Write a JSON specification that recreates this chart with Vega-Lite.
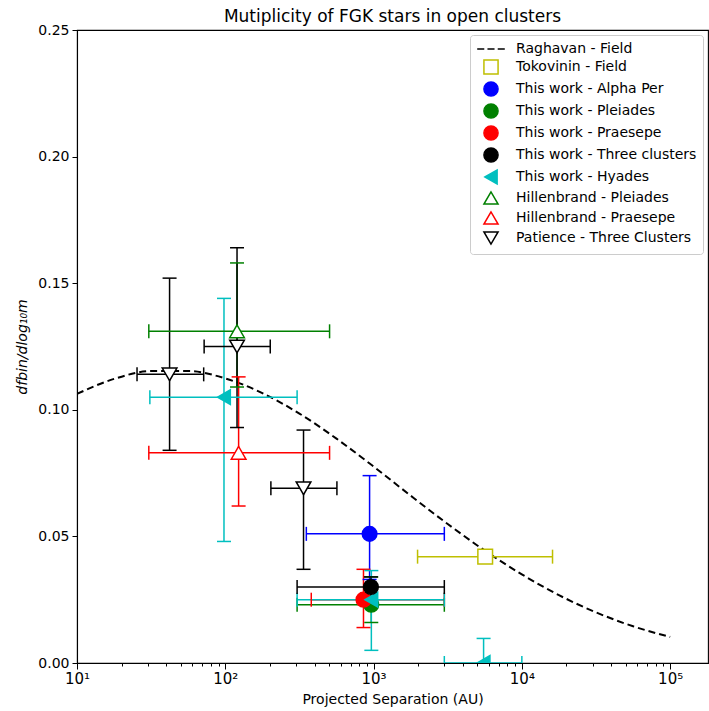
{
  "$schema": "https://vega.github.io/schema/vega-lite/v6.json",
  "width": 631,
  "height": 633,
  "autosize": {"type": "none"},
  "padding": {"left": 77, "top": 30, "right": 1, "bottom": 48},
  "background": "white",
  "title": {
    "text": "Mutiplicity of FGK stars in open clusters",
    "font": "DejaVu Sans",
    "fontSize": 17,
    "fontWeight": "normal",
    "color": "black",
    "anchor": "middle",
    "offset": -3
  },
  "config": {
    "font": "DejaVu Sans",
    "view": {"stroke": "black", "strokeWidth": 1.1},
    "axis": {
      "grid": false,
      "domainColor": "black",
      "domainWidth": 1.1,
      "tickColor": "black",
      "tickWidth": 1,
      "labelColor": "black",
      "titleColor": "black",
      "labelFont": "DejaVu Sans",
      "titleFont": "DejaVu Sans",
      "labelFontSize": 14,
      "titleFontSize": 14,
      "titleFontWeight": "normal"
    },
    "legend": {
      "orient": "top-right",
      "offset": 5,
      "padding": 6,
      "strokeColor": "#cccccc",
      "fillColor": "white",
      "cornerRadius": 3,
      "labelFont": "DejaVu Sans",
      "labelFontSize": 14,
      "labelColor": "black",
      "labelLimit": 400,
      "rowPadding": 0,
      "symbolOffset": 7,
      "labelOffset": 17,
      "symbolSize": 200,
      "symbolStrokeWidth": 1.5
    }
  },
  "datasets": {
    "raghavan": [
      {"x": 10, "y": 0.1063},
      {"x": 17.78, "y": 0.1122},
      {"x": 31.62, "y": 0.1153},
      {"x": 56.23, "y": 0.1153},
      {"x": 100, "y": 0.1124},
      {"x": 177.8, "y": 0.1066},
      {"x": 316.2, "y": 0.0985},
      {"x": 562.3, "y": 0.0886},
      {"x": 1000, "y": 0.0776},
      {"x": 1778, "y": 0.0661},
      {"x": 3162, "y": 0.0549},
      {"x": 5623, "y": 0.0444},
      {"x": 10000, "y": 0.035},
      {"x": 17783, "y": 0.0268},
      {"x": 31623, "y": 0.02},
      {"x": 56234, "y": 0.0145},
      {"x": 100000, "y": 0.0103}
    ],
    "points": [
      {"series": "Tokovinin - Field", "x": 5660, "y": 0.042, "xlo": 1980, "xhi": 16100, "ylo": 0.042, "yhi": 0.042},
      {"series": "This work - Alpha Per", "x": 940, "y": 0.051, "xlo": 352, "xhi": 3000, "ylo": 0.033, "yhi": 0.074},
      {"series": "This work - Pleiades", "x": 965, "y": 0.023, "xlo": 305, "xhi": 3000, "ylo": 0.016, "yhi": 0.034},
      {"series": "This work - Praesepe", "x": 855, "y": 0.025, "xlo": 380, "xhi": 3000, "ylo": 0.014, "yhi": 0.037},
      {"series": "This work - Hyades", "x": 98, "y": 0.105, "xlo": 31, "xhi": 305, "ylo": 0.048, "yhi": 0.144},
      {"series": "This work - Hyades", "x": 966, "y": 0.025, "xlo": 305, "xhi": 3000, "ylo": 0.005, "yhi": 0.0365},
      {"series": "This work - Hyades", "x": 5520, "y": 0.0, "xlo": 3000, "xhi": 10000, "ylo": -0.01, "yhi": 0.0097},
      {"series": "This work - Three clusters", "x": 960, "y": 0.030, "xlo": 305, "xhi": 3000, "ylo": 0.026, "yhi": 0.034},
      {"series": "Hillenbrand - Pleiades", "x": 120, "y": 0.131, "xlo": 30.5, "xhi": 505, "ylo": 0.109, "yhi": 0.158},
      {"series": "Hillenbrand - Praesepe", "x": 123, "y": 0.083, "xlo": 30.5, "xhi": 505, "ylo": 0.062, "yhi": 0.113},
      {"series": "Patience - Three Clusters", "x": 42.1, "y": 0.114, "xlo": 25.4, "xhi": 71.5, "ylo": 0.084, "yhi": 0.152},
      {"series": "Patience - Three Clusters", "x": 120, "y": 0.125, "xlo": 72, "xhi": 201, "ylo": 0.093, "yhi": 0.164},
      {"series": "Patience - Three Clusters", "x": 337, "y": 0.069, "xlo": 203, "xhi": 566, "ylo": 0.037, "yhi": 0.092}
    ]
  },
  "layer": [
    {
      "data": {"name": "raghavan"},
      "mark": {"type": "line", "stroke": "black", "strokeWidth": 2, "strokeDash": [7, 4], "interpolate": "monotone", "clip": true},
      "encoding": {
        "x": {
          "field": "x", "type": "quantitative",
          "scale": {"type": "log", "domain": [10, 180000], "nice": false},
          "title": "Projected Separation (AU)",
          "axis": {
            "title": "Projected Separation (AU)",
            "values": [10, 20, 30, 40, 50, 60, 70, 80, 90, 100, 200, 300, 400, 500, 600, 700, 800, 900, 1000, 2000, 3000, 4000, 5000, 6000, 7000, 8000, 9000, 10000, 20000, 30000, 40000, 50000, 60000, 70000, 80000, 90000, 100000],
            "labelExpr": "abs(log(datum.value) / LN10 - round(log(datum.value) / LN10)) < 0.001 ? '10' + ['⁰', '¹', '²', '³', '⁴', '⁵', '⁶'][round(log(datum.value) / LN10)] : ''",
            "tickSize": {"condition": {"test": "abs(log(datum.value) / LN10 - round(log(datum.value) / LN10)) < 0.001", "value": 6}, "value": 3},
            "labelOverlap": false,
            "labelFlush": false,
            "labelFontSize": 15,
            "labelPadding": 2,
            "titlePadding": 6
          }
        },
        "y": {
          "field": "y", "type": "quantitative",
          "scale": {"domain": [0, 0.25], "nice": false, "zero": false},
          "title": "dfbin/dlog₁₀m",
          "axis": {
            "title": "dfbin/dlog₁₀m",
            "values": [0, 0.05, 0.1, 0.15, 0.2, 0.25],
            "format": ".2f",
            "tickSize": 5,
            "labelFlush": false,
            "labelPadding": 3,
            "titlePadding": 8,
            "titleFontStyle": "italic"
          }
        }
      }
    },
    {
      "data": {"name": "points"},
      "mark": {"type": "rule", "strokeWidth": 1.5, "clip": true},
      "encoding": {
        "x": {"field": "x", "type": "quantitative", "scale": {"type": "log", "domain": [10, 180000], "nice": false}, "title": "Projected Separation (AU)"},
        "y": {"field": "ylo", "type": "quantitative", "scale": {"domain": [0, 0.25], "nice": false, "zero": false}, "title": "dfbin/dlog₁₀m"},
        "y2": {"field": "yhi"},
        "color": {
          "field": "series", "type": "nominal", "legend": null,
          "scale": {
            "domain": ["Tokovinin - Field", "This work - Alpha Per", "This work - Pleiades", "This work - Praesepe", "This work - Three clusters", "This work - Hyades", "Hillenbrand - Pleiades", "Hillenbrand - Praesepe", "Patience - Three Clusters"],
            "range": ["#bfbf00", "#0000ff", "#008000", "#ff0000", "#000000", "#00bfbf", "#008000", "#ff0000", "#000000"]
          }
        }
      }
    },
    {
      "data": {"name": "points"},
      "mark": {"type": "rule", "strokeWidth": 1.5, "clip": true},
      "encoding": {
        "x": {"field": "xlo", "type": "quantitative", "scale": {"type": "log", "domain": [10, 180000], "nice": false}, "title": "Projected Separation (AU)"},
        "x2": {"field": "xhi"},
        "y": {"field": "y", "type": "quantitative", "scale": {"domain": [0, 0.25], "nice": false, "zero": false}, "title": "dfbin/dlog₁₀m"},
        "color": {
          "field": "series", "type": "nominal", "legend": null,
          "scale": {
            "domain": ["Tokovinin - Field", "This work - Alpha Per", "This work - Pleiades", "This work - Praesepe", "This work - Three clusters", "This work - Hyades", "Hillenbrand - Pleiades", "Hillenbrand - Praesepe", "Patience - Three Clusters"],
            "range": ["#bfbf00", "#0000ff", "#008000", "#ff0000", "#000000", "#00bfbf", "#008000", "#ff0000", "#000000"]
          }
        }
      }
    },
    {
      "data": {"name": "points"},
      "mark": {"type": "tick", "orient": "horizontal", "size": 14, "thickness": 1.5, "opacity": 1, "clip": true},
      "encoding": {
        "x": {"field": "x", "type": "quantitative", "scale": {"type": "log", "domain": [10, 180000], "nice": false}, "title": "Projected Separation (AU)"},
        "y": {"field": "ylo", "type": "quantitative", "scale": {"domain": [0, 0.25], "nice": false, "zero": false}, "title": "dfbin/dlog₁₀m"},
        "color": {"field": "series", "type": "nominal", "legend": null}
      }
    },
    {
      "data": {"name": "points"},
      "mark": {"type": "tick", "orient": "horizontal", "size": 14, "thickness": 1.5, "opacity": 1, "clip": true},
      "encoding": {
        "x": {"field": "x", "type": "quantitative", "scale": {"type": "log", "domain": [10, 180000], "nice": false}, "title": "Projected Separation (AU)"},
        "y": {"field": "yhi", "type": "quantitative", "scale": {"domain": [0, 0.25], "nice": false, "zero": false}, "title": "dfbin/dlog₁₀m"},
        "color": {"field": "series", "type": "nominal", "legend": null}
      }
    },
    {
      "data": {"name": "points"},
      "mark": {"type": "tick", "orient": "vertical", "size": 14, "thickness": 1.5, "opacity": 1, "clip": true},
      "encoding": {
        "x": {"field": "xlo", "type": "quantitative", "scale": {"type": "log", "domain": [10, 180000], "nice": false}, "title": "Projected Separation (AU)"},
        "y": {"field": "y", "type": "quantitative", "scale": {"domain": [0, 0.25], "nice": false, "zero": false}, "title": "dfbin/dlog₁₀m"},
        "color": {"field": "series", "type": "nominal", "legend": null}
      }
    },
    {
      "data": {"name": "points"},
      "mark": {"type": "tick", "orient": "vertical", "size": 14, "thickness": 1.5, "opacity": 1, "clip": true},
      "encoding": {
        "x": {"field": "xhi", "type": "quantitative", "scale": {"type": "log", "domain": [10, 180000], "nice": false}, "title": "Projected Separation (AU)"},
        "y": {"field": "y", "type": "quantitative", "scale": {"domain": [0, 0.25], "nice": false, "zero": false}, "title": "dfbin/dlog₁₀m"},
        "color": {"field": "series", "type": "nominal", "legend": null}
      }
    },
    {
      "data": {"name": "points"},
      "mark": {"type": "point", "size": 215, "strokeWidth": 1.5, "opacity": 1, "clip": true},
      "encoding": {
        "x": {"field": "x", "type": "quantitative", "scale": {"type": "log", "domain": [10, 180000], "nice": false}, "title": "Projected Separation (AU)"},
        "y": {"field": "y", "type": "quantitative", "scale": {"domain": [0, 0.25], "nice": false, "zero": false}, "title": "dfbin/dlog₁₀m"},
        "fill": {
          "field": "series", "type": "nominal",
          "scale": {
            "domain": ["Raghavan - Field", "Tokovinin - Field", "This work - Alpha Per", "This work - Pleiades", "This work - Praesepe", "This work - Three clusters", "This work - Hyades", "Hillenbrand - Pleiades", "Hillenbrand - Praesepe", "Patience - Three Clusters"],
            "range": ["#000000", "#ffffff", "#0000ff", "#008000", "#ff0000", "#000000", "#00bfbf", "#ffffff", "#ffffff", "#ffffff"]
          },
          "legend": {"title": null}
        },
        "stroke": {
          "field": "series", "type": "nominal",
          "scale": {
            "domain": ["Raghavan - Field", "Tokovinin - Field", "This work - Alpha Per", "This work - Pleiades", "This work - Praesepe", "This work - Three clusters", "This work - Hyades", "Hillenbrand - Pleiades", "Hillenbrand - Praesepe", "Patience - Three Clusters"],
            "range": ["#000000", "#bfbf00", "#0000ff", "#008000", "#ff0000", "#000000", "#00bfbf", "#008000", "#ff0000", "#000000"]
          },
          "legend": {"title": null}
        },
        "shape": {
          "field": "series", "type": "nominal",
          "scale": {
            "domain": ["Raghavan - Field", "Tokovinin - Field", "This work - Alpha Per", "This work - Pleiades", "This work - Praesepe", "This work - Three clusters", "This work - Hyades", "Hillenbrand - Pleiades", "Hillenbrand - Praesepe", "Patience - Three Clusters"],
            "range": ["M-1.95,0H-0.95M-0.5,0H0.5M0.95,0H1.95", "square", "circle", "circle", "circle", "circle", "triangle-left", "triangle-up", "triangle-up", "triangle-down"]
          },
          "legend": {"title": null}
        }
      }
    }
  ]
}
